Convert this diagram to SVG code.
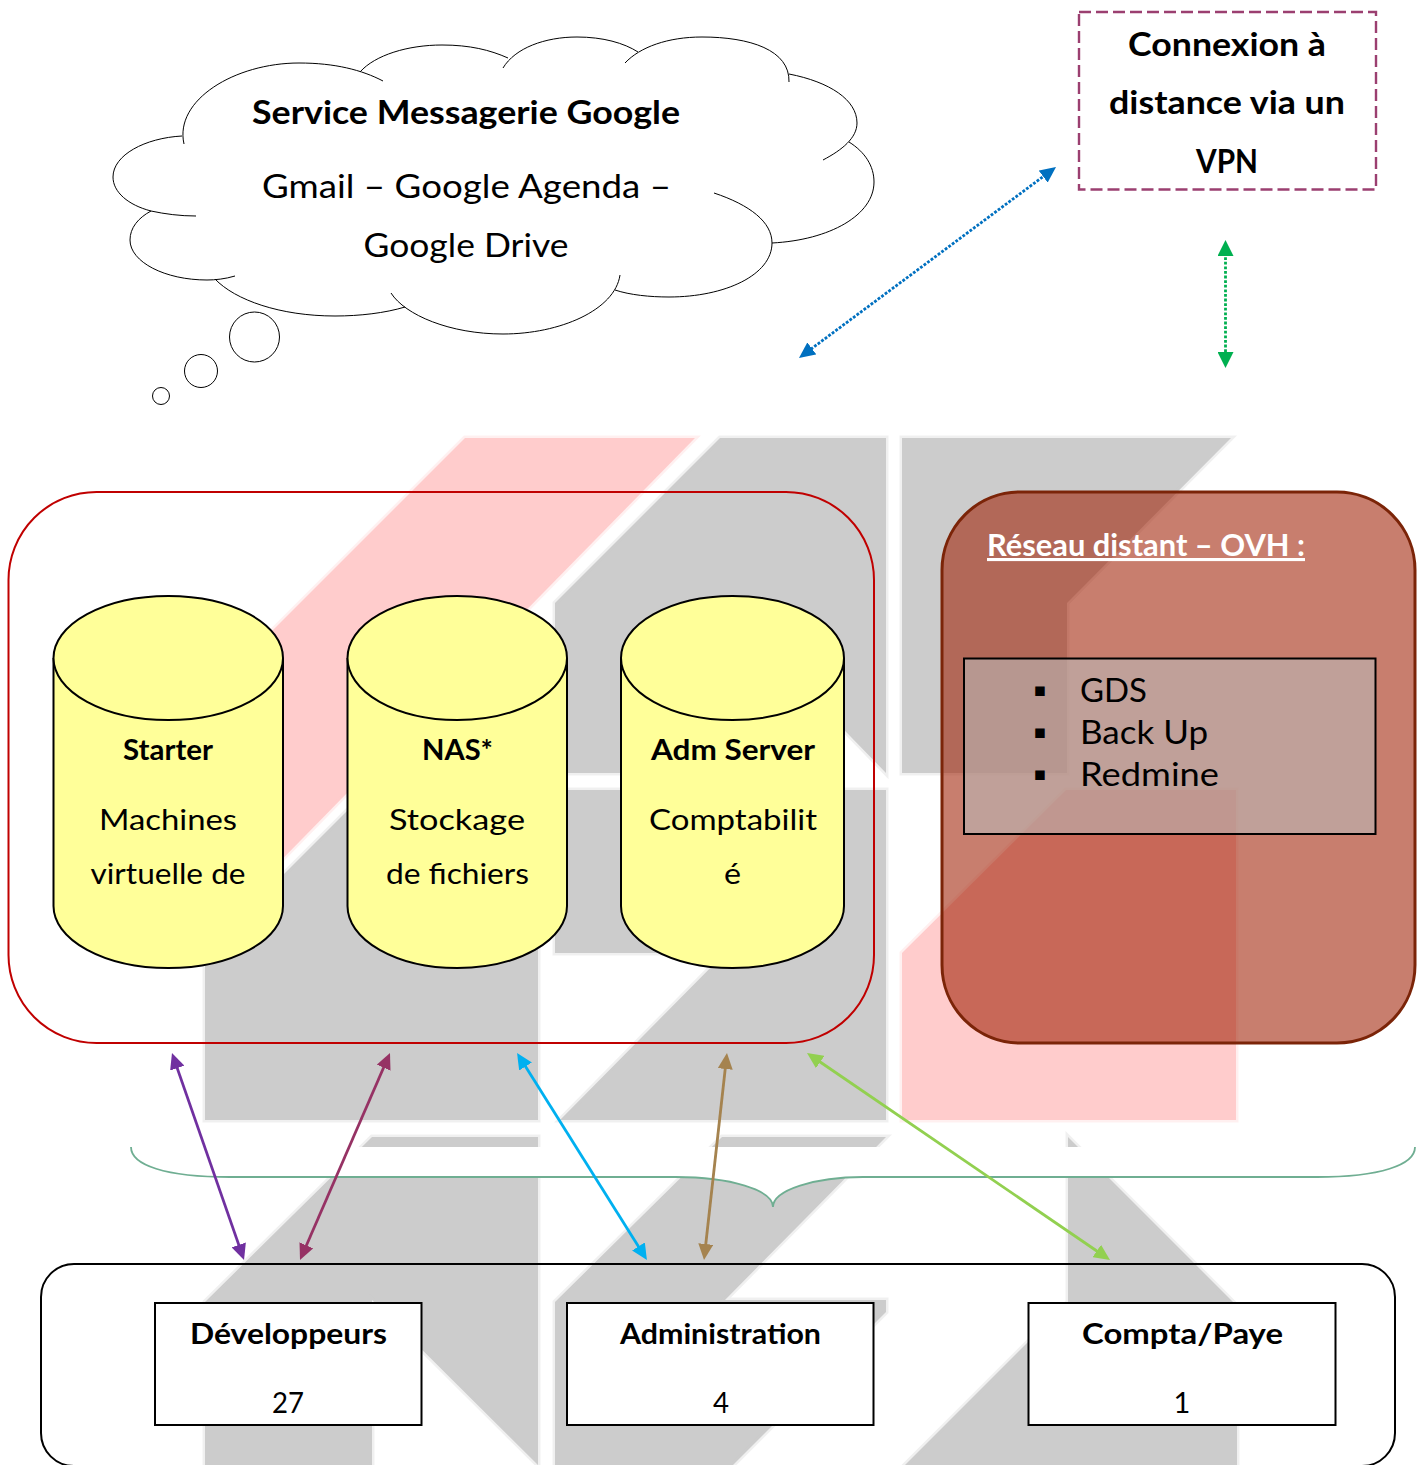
<svg xmlns="http://www.w3.org/2000/svg" width="1427" height="1465" viewBox="0 0 1427 1465">
<style>
text{font-family:"Lato","Open Sans","Liberation Sans",sans-serif;fill:#000;text-anchor:middle}
.b{font-weight:700}
.s1{font-size:33px}
.s2{font-size:29px}
.l{text-anchor:start;font-size:32px}
.g{fill:#ccc;stroke:#ccc;stroke-width:5;stroke-opacity:.3}
.p{fill:#fcc;stroke:#fcc;stroke-width:5;stroke-opacity:.3}
.cl{fill:none;stroke:#000;stroke-width:1}
.cyl{fill:#ff9;stroke:#000;stroke-width:2}
.box{fill:#fff;stroke:#000;stroke-width:2}
.conn{fill:none;stroke-width:2.800}
</style>
<defs>
<marker id="mBlue" markerUnits="userSpaceOnUse" markerWidth="16" markerHeight="15" refX="8" refY="7.500" orient="auto-start-reverse"><polygon points="0,0 16,7.500 0,15" fill="#0070c0"/></marker>
<marker id="mGreen" markerUnits="userSpaceOnUse" markerWidth="16" markerHeight="16" refX="8" refY="8" orient="auto-start-reverse"><polygon points="0,0 16,8 0,16" fill="#00b050"/></marker>
<marker id="mPurple" markerUnits="userSpaceOnUse" markerWidth="16" markerHeight="15" refX="8" refY="7.500" orient="auto-start-reverse"><polygon points="0,0 16,7.500 0,15" fill="#7030a0"/></marker>
<marker id="mMaroon" markerUnits="userSpaceOnUse" markerWidth="16" markerHeight="15" refX="8" refY="7.500" orient="auto-start-reverse"><polygon points="0,0 16,7.500 0,15" fill="#963264"/></marker>
<marker id="mCyan" markerUnits="userSpaceOnUse" markerWidth="16" markerHeight="15" refX="8" refY="7.500" orient="auto-start-reverse"><polygon points="0,0 16,7.500 0,15" fill="#00b0f0"/></marker>
<marker id="mBrown" markerUnits="userSpaceOnUse" markerWidth="16" markerHeight="15" refX="8" refY="7.500" orient="auto-start-reverse"><polygon points="0,0 16,7.500 0,15" fill="#a5834f"/></marker>
<marker id="mLime" markerUnits="userSpaceOnUse" markerWidth="16" markerHeight="15" refX="8" refY="7.500" orient="auto-start-reverse"><polygon points="0,0 16,7.500 0,15" fill="#92d050"/></marker>
</defs>
<rect width="1427" height="1465" fill="#fff"/>
<g id="watermark">
<polygon class="p" points="465,438 695,438 205,938 205,698"/>
<polygon class="g" points="720,438 886,438 886,773 815,700 745,773 555,773 555,603"/>
<polygon class="g" points="902,438 1231,438 1067,603 1067,773 902,773"/>
<polygon class="g" points="368,790 538,790 538,1120 205,1120 205,953"/>
<polygon class="g" points="555,790 886,790 886,1120 560,1120 725,953 555,953"/>
<polygon class="p" points="1066,790 1236,790 1236,1120 902,1120 902,953"/>
<polygon class="g" points="372,1137 538,1137 538,1465 372,1300 372,1465 205,1465 205,1302"/>
<polygon class="g" points="722,1137 886,1137 725,1300 886,1300 886,1312 733,1465 555,1465 555,1302"/>
<polygon class="g" points="1068,1137 1237,1306 1237,1465 905,1465 1068,1302"/>
</g>
<g id="accolade">
<path d="M131,1147 C131,1165 165,1177 230,1177 L676,1177 C730,1177 773,1190 773,1207 C773,1190 815,1177 863,1177 L1317,1177 C1380,1177 1415,1165 1415,1147 Z" fill="#fff" stroke="none"/>
<path d="M131,1147 C131,1165 165,1177 230,1177 L676,1177 C730,1177 773,1190 773,1207 C773,1190 815,1177 863,1177 L1317,1177 C1380,1177 1415,1165 1415,1147" fill="none" stroke="#6fae92" stroke-width="1.800"/>
</g>
<g id="cloud">
<path class="cl" d="M184,144 C174,100 235,63 299,63 C335,63 362,70 383,81"/>
<path class="cl" d="M360,72 C375,55 408,45 442,45 C470,45 490,50 508,58"/>
<path class="cl" d="M503,68 C515,48 545,37 577,37 C603,37 624,43 638,52"/>
<path class="cl" d="M625,63 C640,47 668,37 702,37 C750,37 790,50 789,82"/>
<path class="cl" d="M789,74 C830,82 857,100 857,123 C857,138 842,150 823,160"/>
<path class="cl" d="M849,142 C865,152 874,166 874,182 C874,215 830,240 772,243"/>
<path class="cl" d="M714,193 C750,205 772,222 772,243 C772,275 725,297 669,297 C650,297 630,295 615,290"/>
<path class="cl" d="M620,275 C615,310 560,334 503,334 C450,334 405,315 391,293"/>
<path class="cl" d="M405,307 C385,313 360,316 335,316 C280,316 235,300 215,279"/>
<path class="cl" d="M235,276 C225,279 215,280 207,280 C165,280 130,262 130,240 C130,228 138,218 151,211"/>
<path class="cl" d="M196,216 C180,216 165,214 151,211 C128,205 113,192 113,177 C113,155 145,138 182,136"/>
<ellipse class="cl" cx="254.500" cy="337" rx="25" ry="25"/>
<ellipse class="cl" cx="201" cy="371" rx="16.500" ry="16.500"/>
<ellipse class="cl" cx="161" cy="396" rx="8.500" ry="8.500"/>
<text class="b s1" x="466" y="124" textLength="428" lengthAdjust="spacingAndGlyphs">Service Messagerie Google</text>
<text class="s1" x="466.500" y="198" textLength="409" lengthAdjust="spacingAndGlyphs">Gmail – Google Agenda –</text>
<text class="s1" x="466" y="257" textLength="205" lengthAdjust="spacingAndGlyphs">Google Drive</text>
</g>
<g id="vpn">
<rect x="1079" y="12" width="297" height="177.500" fill="#fff" stroke="#9b3f70" stroke-width="2.400" stroke-dasharray="12 5"/>
<text class="b s1" x="1227" y="56" textLength="198" lengthAdjust="spacingAndGlyphs">Connexion à</text>
<text class="b s1" x="1227" y="114" textLength="236" lengthAdjust="spacingAndGlyphs">distance via un</text>
<text class="b s1" x="1227" y="173" textLength="62" lengthAdjust="spacingAndGlyphs">VPN</text>
</g>
<g id="local-network">
<rect x="8.500" y="492" width="865.500" height="551" rx="88" ry="88" fill="none" stroke="#c00000" stroke-width="2"/>
</g>
<g id="starter">
<path class="cyl" d="M53.500,658 V906 A114.750,62 0 0 0 283,906 V658"/>
<ellipse class="cyl" cx="168.250" cy="658" rx="114.750" ry="62"/>
<text class="b s2" x="168" y="760" textLength="90" lengthAdjust="spacingAndGlyphs">Starter</text>
<text class="s2" x="168" y="830" textLength="138" lengthAdjust="spacingAndGlyphs">Machines</text>
<text class="s2" x="168" y="884" textLength="155" lengthAdjust="spacingAndGlyphs">virtuelle de</text>
</g>
<g id="nas">
<path class="cyl" d="M347.500,658 V906 A109.750,62 0 0 0 567,906 V658"/>
<ellipse class="cyl" cx="457.250" cy="658" rx="109.750" ry="62"/>
<text class="b s2" x="457.500" y="760" textLength="71" lengthAdjust="spacingAndGlyphs">NAS*</text>
<text class="s2" x="457" y="830" textLength="136" lengthAdjust="spacingAndGlyphs">Stockage</text>
<text class="s2" x="457.500" y="884" textLength="143" lengthAdjust="spacingAndGlyphs">de fichiers</text>
</g>
<g id="adm-server">
<path class="cyl" d="M621,658 V906 A111.500,62 0 0 0 844,906 V658"/>
<ellipse class="cyl" cx="732.500" cy="658" rx="111.500" ry="62"/>
<text class="b s2" x="733" y="760" textLength="164" lengthAdjust="spacingAndGlyphs">Adm Server</text>
<text class="s2" x="733" y="830" textLength="168" lengthAdjust="spacingAndGlyphs">Comptabilit</text>
<text class="s2" x="732.500" y="884" textLength="17" lengthAdjust="spacingAndGlyphs">é</text>
</g>
<g id="ovh">
<rect x="942" y="492" width="473" height="551" rx="78" ry="78" fill="#9e1d00" fill-opacity=".57"/>
<rect x="942" y="492" width="473" height="551" rx="78" ry="78" fill="none" stroke="#7b2408" stroke-width="3"/>
<text class="b" x="987" y="556" font-size="31" style="text-anchor:start;fill:#fff;text-decoration:underline" textLength="318" lengthAdjust="spacingAndGlyphs">Réseau distant – OVH :</text>
<rect x="964" y="658.500" width="411.500" height="175.500" fill="#bbb8b5" fill-opacity=".6"/>
<rect x="964" y="658.500" width="411.500" height="175.500" fill="none" stroke="#000" stroke-width="2"/>
<text x="1040" y="695.500" font-size="19" style="font-family:'DejaVu Sans',sans-serif">▪</text>
<text x="1040" y="737.500" font-size="19" style="font-family:'DejaVu Sans',sans-serif">▪</text>
<text x="1040" y="779.500" font-size="19" style="font-family:'DejaVu Sans',sans-serif">▪</text>
<text class="l" x="1080" y="702" textLength="67" lengthAdjust="spacingAndGlyphs">GDS</text>
<text class="l" x="1080" y="744" textLength="128" lengthAdjust="spacingAndGlyphs">Back Up</text>
<text class="l" x="1080" y="786" textLength="139" lengthAdjust="spacingAndGlyphs">Redmine</text>
</g>
<g id="users">
<rect x="41" y="1264" width="1354" height="202" rx="33" ry="33" fill="none" stroke="#000" stroke-width="2"/>
</g>
<g id="developpeurs">
<rect class="box" x="155" y="1303" width="266.500" height="122"/>
<text class="b s2" x="288.500" y="1344" textLength="197" lengthAdjust="spacingAndGlyphs">Développeurs</text>
<text class="s2" x="288" y="1413" textLength="32" lengthAdjust="spacingAndGlyphs">27</text>
</g>
<g id="administration">
<rect class="box" x="567" y="1303" width="306.500" height="122"/>
<text class="b s2" x="720.500" y="1344" textLength="201" lengthAdjust="spacingAndGlyphs">Administration</text>
<text class="s2" x="721" y="1413" textLength="16" lengthAdjust="spacingAndGlyphs">4</text>
</g>
<g id="compta">
<rect class="box" x="1028.500" y="1303" width="307" height="122"/>
<text class="b s2" x="1182.500" y="1344" textLength="201" lengthAdjust="spacingAndGlyphs">Compta/Paye</text>
<text class="s2" x="1182" y="1413">1</text>
</g>
<g id="connectors">
<line class="conn" x1="1049.600" y1="171.800" x2="805.400" y2="353.200" stroke="#0070c0" stroke-dasharray="2.800 1.600" marker-start="url(#mBlue)" marker-end="url(#mBlue)"/>
<line class="conn" x1="1225.500" y1="248" x2="1225.500" y2="360" stroke="#00b050" stroke-dasharray="2.800 1.800" marker-start="url(#mGreen)" marker-end="url(#mGreen)"/>
<line class="conn" x1="174.600" y1="1060.600" x2="241.400" y2="1252.400" stroke="#7030a0" marker-start="url(#mPurple)" marker-end="url(#mPurple)"/>
<line class="conn" x1="386.800" y1="1060.300" x2="303.200" y2="1252.700" stroke="#963264" marker-start="url(#mMaroon)" marker-end="url(#mMaroon)"/>
<line class="conn" x1="521.300" y1="1059.800" x2="642.700" y2="1253.200" stroke="#00b0f0" marker-start="url(#mCyan)" marker-end="url(#mCyan)"/>
<line class="conn" x1="726.100" y1="1061" x2="704.900" y2="1252" stroke="#a5834f" marker-start="url(#mBrown)" marker-end="url(#mBrown)"/>
<line class="conn" x1="813.600" y1="1057.500" x2="1103.400" y2="1255.500" stroke="#92d050" marker-start="url(#mLime)" marker-end="url(#mLime)"/>
</g>
</svg>
